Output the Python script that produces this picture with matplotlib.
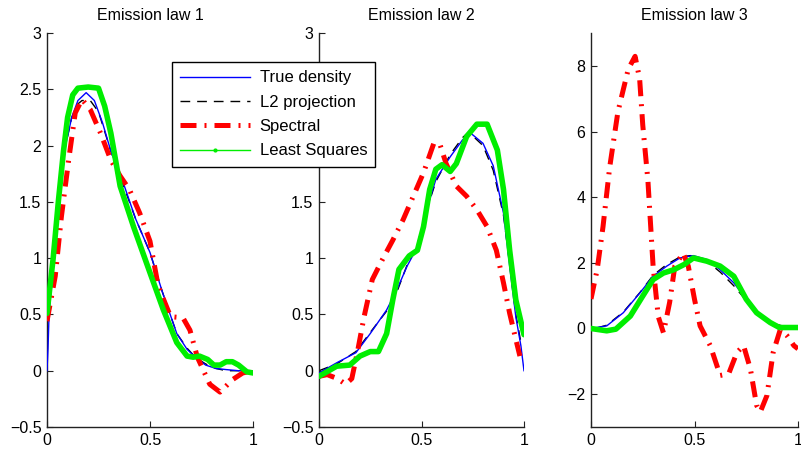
import matplotlib
matplotlib.use("Agg")
import matplotlib.pyplot as plt
from matplotlib.lines import Line2D

plt.rcParams["font.family"] = ["Liberation Sans", "DejaVu Sans"]
plt.rcParams["axes.unicode_minus"] = True

# ---------------- data ----------------
# Emission law 1
true1_x = [0, 0.005, 0.01, 0.03, 0.06, 0.09, 0.12, 0.15, 0.19, 0.23, 0.27, 0.31, 0.37, 0.43, 0.5, 0.56, 0.63, 0.68, 0.72, 0.77, 0.82, 0.87, 0.93, 1.0]
true1_y = [0, 0.2, 0.5, 0.95, 1.5, 2.0, 2.25, 2.4, 2.47, 2.4, 2.2, 1.95, 1.67, 1.35, 1.05, 0.7, 0.33, 0.19, 0.12, 0.05, 0.02, 0.01, 0.0, 0.0]
l2_1_x = [0, 0.01, 0.03, 0.06, 0.09, 0.12, 0.15, 0.17, 0.21, 0.25, 0.31, 0.37, 0.43, 0.5, 0.56, 0.63, 0.68, 0.72, 0.77, 0.82, 0.87, 0.93, 1.0]
l2_1_y = [0.3, 0.55, 0.95, 1.5, 2.0, 2.25, 2.37, 2.4, 2.4, 2.3, 1.95, 1.65, 1.35, 1.05, 0.7, 0.33, 0.2, 0.12, 0.06, 0.02, 0.0, 0.0, 0.0]
sp1_x = [0, 0.04, 0.07, 0.105, 0.137, 0.17, 0.21, 0.26, 0.31, 0.355, 0.40, 0.45, 0.5, 0.54, 0.6, 0.66, 0.694, 0.73, 0.79, 0.84, 0.9, 0.95, 1.0]
sp1_y = [0.44, 0.84, 1.37, 1.87, 2.29, 2.41, 2.32, 2.11, 1.87, 1.73, 1.61, 1.40, 1.15, 0.75, 0.48, 0.47, 0.36, 0.12, -0.12, -0.19, -0.08, -0.02, 0.0]
ls1_x = [0, 0.03, 0.056, 0.08, 0.1, 0.125, 0.15, 0.2, 0.25, 0.28, 0.31, 0.355, 0.42, 0.5, 0.565, 0.63, 0.68, 0.71, 0.74, 0.78, 0.81, 0.84, 0.87, 0.9, 0.93, 0.97, 1.0]
ls1_y = [0.51, 1.0, 1.52, 1.95, 2.25, 2.45, 2.51, 2.52, 2.51, 2.35, 2.11, 1.64, 1.28, 0.87, 0.54, 0.25, 0.13, 0.12, 0.13, 0.1, 0.05, 0.05, 0.08, 0.08, 0.05, -0.01, -0.02]

# Emission law 2
true2_x = [0, 0.086, 0.18, 0.25, 0.33, 0.38, 0.43, 0.48, 0.52, 0.57, 0.64, 0.70, 0.74, 0.8, 0.85, 0.9, 0.93, 0.96, 0.985, 1.0]
true2_y = [-0.02, 0.07, 0.16, 0.33, 0.54, 0.72, 0.93, 1.10, 1.40, 1.70, 1.90, 2.05, 2.11, 2.02, 1.82, 1.40, 0.93, 0.48, 0.22, 0.0]
l2_2_x = [0, 0.086, 0.18, 0.25, 0.33, 0.38, 0.43, 0.48, 0.52, 0.57, 0.64, 0.70, 0.73, 0.8, 0.85, 0.9, 0.93, 0.96, 0.985]
l2_2_y = [0.0, 0.06, 0.17, 0.34, 0.53, 0.70, 0.94, 1.12, 1.40, 1.68, 1.92, 2.07, 2.12, 2.0, 1.78, 1.38, 0.95, 0.5, 0.25]
sp2_x = [0, 0.04, 0.09, 0.13, 0.16, 0.19, 0.22, 0.26, 0.31, 0.36, 0.41, 0.46, 0.51, 0.56, 0.59, 0.62, 0.67, 0.72, 0.77, 0.82, 0.865, 0.9, 0.93, 0.96, 0.98]
sp2_y = [-0.05, -0.035, -0.07, -0.12, -0.07, 0.19, 0.48, 0.81, 0.99, 1.16, 1.34, 1.55, 1.76, 2.02, 2.01, 1.84, 1.64, 1.55, 1.43, 1.28, 1.07, 0.78, 0.51, 0.28, 0.13]
ls2_x = [0, 0.086, 0.15, 0.2, 0.25, 0.29, 0.33, 0.36, 0.39, 0.44, 0.48, 0.51, 0.54, 0.57, 0.6, 0.64, 0.67, 0.72, 0.77, 0.82, 0.87, 0.9, 0.93, 0.96, 1.0]
ls2_y = [-0.05, 0.04, 0.05, 0.13, 0.17, 0.17, 0.33, 0.63, 0.90, 1.02, 1.07, 1.28, 1.61, 1.79, 1.83, 1.77, 1.84, 2.08, 2.19, 2.19, 1.96, 1.61, 1.07, 0.63, 0.32]

# Emission law 3
true3_x = [0, 0.076, 0.156, 0.237, 0.30, 0.366, 0.43, 0.495, 0.56, 0.624, 0.69, 0.75, 0.82, 0.88, 0.95, 1.0]
true3_y = [0, 0.08, 0.48, 1.09, 1.59, 1.9, 2.15, 2.22, 2.1, 1.79, 1.39, 0.89, 0.38, 0.13, 0.03, 0.03]
l2_3_x = [0.03, 0.076, 0.156, 0.237, 0.30, 0.366, 0.43, 0.48, 0.56, 0.624, 0.69, 0.75, 0.82, 0.88, 0.95, 1.0]
l2_3_y = [0.02, 0.1, 0.5, 1.1, 1.62, 1.95, 2.18, 2.22, 2.05, 1.72, 1.3, 0.85, 0.4, 0.15, 0.04, 0.03]
sp3_x = [0, 0.03, 0.058, 0.09, 0.13, 0.18, 0.213, 0.235, 0.25, 0.275, 0.3, 0.325, 0.35, 0.38, 0.405, 0.445, 0.47, 0.5, 0.527, 0.576, 0.624, 0.665, 0.705, 0.737, 0.77, 0.8, 0.818, 0.85, 0.88, 0.915, 0.947, 0.98, 1.0]
sp3_y = [0.9, 1.8, 3.1, 4.9, 6.6, 7.9, 8.29, 7.6, 6.2, 4.5, 1.9, 0.36, -0.13, 0.8, 1.9, 2.3, 1.9, 0.89, 0.08, -0.52, -1.43, -1.38, -0.73, -0.52, -1.23, -2.34, -2.54, -2.04, -0.73, -0.02, -0.22, -0.52, -0.62]
ls3_x = [0, 0.076, 0.12, 0.19, 0.25, 0.3, 0.35, 0.40, 0.45, 0.495, 0.56, 0.624, 0.69, 0.75, 0.80, 0.866, 0.91, 1.0]
ls3_y = [0, -0.07, -0.02, 0.38, 0.99, 1.49, 1.69, 1.79, 1.95, 2.15, 2.05, 1.9, 1.59, 0.89, 0.48, 0.18, 0.03, 0.03]

titles = ["Emission law 1", "Emission law 2", "Emission law 3"]
labels = ["True density", "L2 projection", "Spectral", "Least Squares"]

panels = [
    (true1_x, true1_y, l2_1_x, l2_1_y, sp1_x, sp1_y, ls1_x, ls1_y),
    (true2_x, true2_y, l2_2_x, l2_2_y, sp2_x, sp2_y, ls2_x, ls2_y),
    (true3_x, true3_y, l2_3_x, l2_3_y, sp3_x, sp3_y, ls3_x, ls3_y),
]

# ---------------- style ----------------
BLUE = "#0000ff"
BLACK = "#000000"
RED = "#ff0000"
GREEN = "#00ee00"
FS = 11.5
DASH = (0, (7, 5))
DASHDOT = (0, (3.2, 1.6, 0.4, 1.6))

W, H = 801, 454
fig = plt.figure(figsize=(W / 100, H / 100), dpi=100)
fig.patch.set_facecolor("white")

lefts = [47, 319, 591]
widths = [206, 205, 207]
top_px, bot_px = 33, 427

for i, (tx, ty, lx, ly, sx, sy, gx, gy) in enumerate(panels):
    ax = fig.add_axes([lefts[i] / W, 1 - bot_px / H, widths[i] / W, (bot_px - top_px) / H])
    ax.plot(tx, ty, color=BLUE, lw=1.0, zorder=3)
    ax.plot(lx, ly, color=BLACK, lw=1.0, linestyle=DASH, zorder=2)
    ax.plot(sx, sy, color=RED, lw=3.6, linestyle=DASHDOT, zorder=4)
    ax.plot(gx, gy, color=GREEN, lw=4.0, solid_capstyle="round", zorder=5)

    ax.set_xlim(0, 1)
    ax.set_xticks([0, 0.5, 1])
    ax.set_xticklabels(["0", "0.5", "1"])
    if i < 2:
        ax.set_ylim(-0.5, 3)
        ax.set_yticks([-0.5, 0, 0.5, 1, 1.5, 2, 2.5, 3])
        ax.set_yticklabels(["\u22120.5", "0", "0.5", "1", "1.5", "2", "2.5", "3"])
        if i == 1:
            # these two labels sit behind the legend box in the reference
            for lab in ax.get_yticklabels()[5:7]:
                lab.set_visible(False)
    else:
        ax.set_ylim(-3, 9)
        ax.set_yticks([-2, 0, 2, 4, 6, 8])
        ax.set_yticklabels(["\u22122", "0", "2", "4", "6", "8"])

    for s in ["top", "right"]:
        ax.spines[s].set_visible(False)
    for s in ["left", "bottom"]:
        ax.spines[s].set_linewidth(1.0)
        ax.spines[s].set_color("#222222")
    ax.tick_params(direction="in", length=4, width=0.8, labelsize=FS, pad=4,
                   colors="#222222", labelcolor="black")
    ax.set_title(titles[i], fontsize=FS, pad=9)

handles = [
    Line2D([], [], color=BLUE, lw=1.0),
    Line2D([], [], color=BLACK, lw=1.0, linestyle=DASH),
    Line2D([], [], color=RED, lw=3.6, linestyle=DASHDOT),
    Line2D([], [], color=GREEN, lw=1.0, marker=".", markersize=4, markevery=[1]),
]
leg = fig.legend(handles, labels, loc="upper left",
                 bbox_to_anchor=(172 / W, 1 - 62 / H), borderaxespad=0,
                 fontsize=12, frameon=True, fancybox=False, framealpha=1,
                 edgecolor="black", handlelength=4.2, handletextpad=0.55,
                 labelspacing=0.56, borderpad=0.5)
leg.get_frame().set_linewidth(1.0)
leg.set_zorder(20)

fig.savefig("out.png", dpi=100, facecolor="white")
